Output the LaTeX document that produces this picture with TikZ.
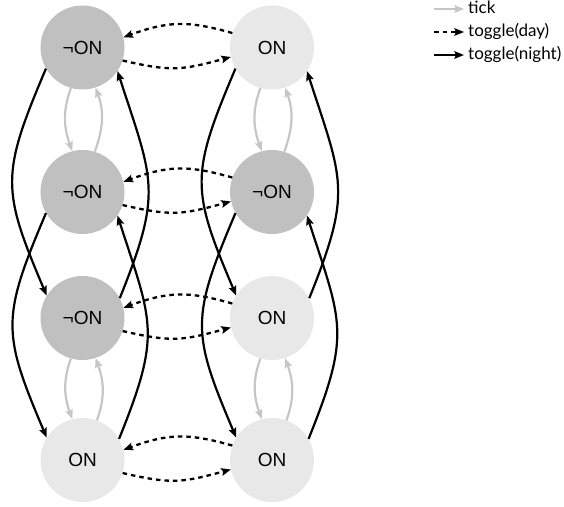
\documentclass[tikz,border=0pt]{standalone}
\usepackage{fontspec}
\setmainfont{Liberation Sans}
\newfontfamily\legfont{Lato}
\usetikzlibrary{arrows.meta}
\definecolor{darkfill}{RGB}{192,192,192}
\definecolor{lightfill}{RGB}{232,232,232}
\definecolor{tickgray}{RGB}{198,198,198}
\begin{document}
\begin{tikzpicture}[x=1pt,y=1pt,
  state/.style={circle,minimum size=84pt,inner sep=0pt,font=\fontsize{19}{19}\selectfont},
  dk/.style={state,fill=darkfill},
  lt/.style={state,fill=lightfill},
  tip/.style={-{Stealth[length=9.5pt,width=7.5pt,inset=1.5pt]}},
  tickedge/.style={draw=tickgray,line width=2.2pt,tip},
  nightedge/.style={draw=black,line width=2.2pt,tip},
  dayedge/.style={draw=black,line width=2.3pt,dash pattern=on 4.5pt off 4pt,tip},
  leg/.style={anchor=base west,font=\legfont\fontsize{17}{17}\selectfont,inner sep=0pt}
]
\useasboundingbox (0,0) rectangle (564,506);
% states
\node[dk] (L1) at (82.5,458.5) {¬ON};
\node[dk] (L2) at (82.5,314) {¬ON};
\node[dk] (L3) at (82.5,188) {¬ON};
\node[lt] (L4) at (82.5,46) {ON};
\node[lt] (R1) at (272,458.5) {ON};
\node[dk] (R2) at (272,314) {¬ON};
\node[lt] (R3) at (272,188) {ON};
\node[lt] (R4) at (272,46) {ON};
% toggle(night)
\foreach \c in {L,R}{
  \draw[nightedge] (\c1.210) to[out=247,in=113,looseness=1.3] (\c3.148);
  \draw[nightedge] (\c2.210) to[out=247,in=113,looseness=1.3] (\c4.148);
  \draw[nightedge] (\c3.28) to[out=68,in=288,looseness=1.3] (\c1.-34);
  \draw[nightedge] (\c4.30) to[out=68,in=288,looseness=1.3] (\c2.-34);
  % tick
  \draw[tickedge] (\c1.254) to[out=250,in=110] (\c2.104);
  \draw[tickedge] (\c2.73) to[out=70,in=290] (\c1.-72);
  \draw[tickedge] (\c3.254) to[out=250,in=110] (\c4.104);
  \draw[tickedge] (\c4.70) to[out=70,in=290] (\c3.-72);
}
% toggle(day)
\foreach \r in {1,2,3,4}{
  \draw[dayedge] (R\r.160) to[out=164,in=20,looseness=1.1] (L\r.14);
  \draw[dayedge] (L\r.-18) to[out=-13,in=195,looseness=1.2] (R\r.193);
}
% legend
\coordinate (a1) at (434,497);
\coordinate (a2) at (434,474);
\coordinate (a3) at (434,451);
\coordinate (b1) at (464,497);
\coordinate (b2) at (464,474);
\coordinate (b3) at (464,451);
\node[leg] (k1) at (468,492) {tick};
\node[leg] (k2) at (468,469) {toggle(day)};
\node[leg] (k3) at (468,446) {toggle(night)};
\draw[tickedge] (a1) -- (b1);
\draw[dayedge] (a2) -- (b2);
\draw[nightedge] (a3) -- (b3);
\end{tikzpicture}
\end{document}
